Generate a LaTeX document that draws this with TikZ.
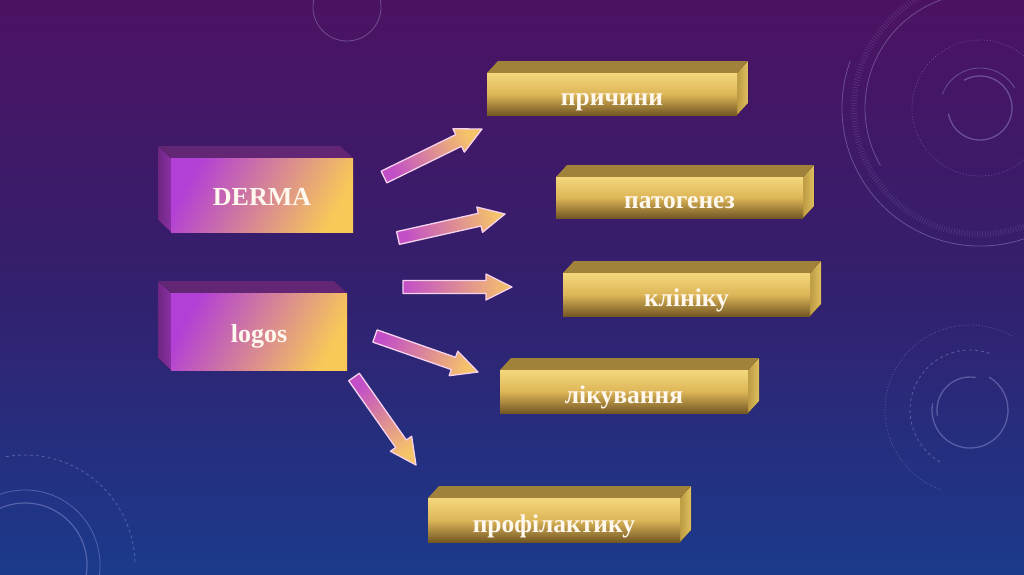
\documentclass[tikz,border=0pt]{standalone}
\usepackage{fontspec}
\setmainfont{Liberation Serif}
\usetikzlibrary{calc}
\definecolor{bgtop}{HTML}{4C1262}
\definecolor{bgmid}{HTML}{33206E}
\definecolor{bgbot}{HTML}{1B3A8C}
\definecolor{pfrontA}{HTML}{B23FD6}
\definecolor{pfrontB}{HTML}{F8C858}
\definecolor{ptop}{HTML}{622674}
\definecolor{pside}{HTML}{8A30A4}
\definecolor{gtop}{HTML}{A0823A}
\definecolor{gside}{HTML}{DDB64E}
\definecolor{gfrontT}{HTML}{F4D87C}
\definecolor{gfrontM}{HTML}{DDB658}
\definecolor{gfrontB}{HTML}{745824}
\definecolor{atail}{HTML}{C24EC8}
\definecolor{ahead}{HTML}{F6C468}
\definecolor{aline}{HTML}{F6D2EC}
\definecolor{txt}{HTML}{FFF8EE}
\definecolor{deco}{HTML}{B8B8F0}
\tikzset{
  ptext/.style={text=txt, font=\fontsize{26}{30}\selectfont\bfseries, inner sep=0pt, anchor=base},
  gtext/.style={text=txt, font=\fontsize{25.5}{30}\selectfont\bfseries, inner sep=0pt, anchor=base},
  pfront/.style={draw=none, inner sep=0pt, top color=pfrontB, bottom color=pfrontA, shading angle=-118},
  gfront/.style={draw=none, inner sep=0pt, top color=gfrontT, bottom color=gfrontB, middle color=gfrontM},
  arrowbody/.style={draw=aline, line width=1.3pt, line join=round, top color=ahead, bottom color=atail},
  decoline/.style={draw=deco, opacity=0.35, line width=0.8pt},
}
\newcommand{\PBox}[7]{% name, x1, y1, x2, y2, text, text baseline
  \coordinate (#1-nw) at (#2,#3);
  \coordinate (#1-se) at (#4,#5);
  \fill[ptop] (#2,#3) -- ++(-13,-12) -- ($(#4,#3)+(-13,-12)$) -- (#4,#3) -- cycle;
  \fill[left color=pside!80!black, right color=pside] (#2,#3) -- ++(-13,-12) -- ($(#2,#5)+(-13,-12)$) -- (#2,#5) -- cycle;
  \path[pfront] (#1-nw) rectangle (#1-se);
  \node[ptext] (#1) at ($(#2/2+#4/2,#7)$) {#6};
}
\newcommand{\GBox}[6]{% name, x1, y1, x2, y2, text
  \coordinate (#1-nw) at (#2,#3);
  \coordinate (#1-se) at (#4,#5);
  \fill[gtop] (#2,#3) -- ++(11,-12) -- ($(#4,#3)+(11,-12)$) -- (#4,#3) -- cycle;
  \fill[left color=gside!85!black, right color=gside!90!white] (#4,#3) -- ++(11,-12) -- ($(#4,#5)+(11,-12)$) -- (#4,#5) -- cycle;
  \path[gfront] (#1-nw) rectangle (#1-se);
  \node[gtext] (#1) at ($(#2/2+#4/2,#5-10)$) {#6};
}
\newcommand{\BArrow}[3]{% start, end, shading direction angle
  \coordinate (#1#2h) at ($(#2)!26pt!(#1)$);
  \path[arrowbody, shading angle=#3-90]
    ($(#1)!6.5pt!90:(#2)$) -- ($(#1#2h)!6.5pt!90:(#2)$) -- ($(#1#2h)!13pt!90:(#2)$)
    -- (#2) -- ($(#1#2h)!13pt!-90:(#2)$) -- ($(#1#2h)!6.5pt!-90:(#2)$)
    -- ($(#1)!6.5pt!-90:(#2)$) -- cycle;
}
\begin{document}
\begin{tikzpicture}[x=1pt,y=-1pt]
\useasboundingbox (0,0) rectangle (1024,574);
\fill[top color=bgtop, bottom color=bgbot, middle color=bgmid] (0,0) rectangle (1024,574);
% decorations
\draw[decoline] (980,108) ++(200:138) arc[start angle=200, end angle=-60, radius=138];
\draw[decoline] (980,108) ++(150:115) arc[start angle=150, end angle=250, radius=115];
\draw[decoline, opacity=0.18, line width=6pt, dash pattern=on 0.6pt off 2pt] (980,108) circle[radius=126];
\draw[decoline, dotted] (980,108) circle[radius=68];
\draw[decoline, line width=1.3pt] (980,108) ++(170:32) arc[start angle=170, end angle=-120, radius=32];
\draw[decoline] (980,108) ++(200:40) arc[start angle=200, end angle=330, radius=40];
\draw[decoline, line width=1.3pt] (970,410) ++(190:38) arc[start angle=190, end angle=-60, radius=38];
\draw[decoline, line width=1.3pt] (970,410) ++(-80:33) arc[start angle=-80, end angle=-190, radius=33];
\draw[decoline, dashed] (970,410) ++(120:60) arc[start angle=120, end angle=290, radius=60];
\draw[decoline, dotted] (970,410) ++(110:85) arc[start angle=110, end angle=300, radius=85];
\draw[decoline, line width=1.2pt] (25,565) circle[radius=62];
\draw[decoline] (25,565) circle[radius=75];
\draw[decoline, dashed] (25,565) ++(-100:110) arc[start angle=-100, end angle=0, radius=110];
\draw[decoline] (347,7) ++(200:27) arc[start angle=200, end angle=330, radius=27];
\draw[decoline] (347,7) circle[radius=34];
% purple boxes
\PBox{derma}{171}{158}{353}{232}{DERMA}{205}
\PBox{logos}{171}{293}{347}{370}{logos}{342}
% gold boxes
\GBox{prych}{487}{73}{737}{115}{причини}
\GBox{patog}{556}{177}{803}{218}{патогенез}
\GBox{klin}{563}{273}{810}{316}{клініку}
\GBox{likuv}{500}{370}{748}{413}{лікування}
\GBox{profil}{428}{498}{680}{542}{профілактику}
% arrow anchors
\coordinate (a1s) at (384,177); \coordinate (a1e) at (482,129);
\coordinate (a2s) at (398,238); \coordinate (a2e) at (505,214);
\coordinate (a3s) at (403,287); \coordinate (a3e) at (512,287);
\coordinate (a4s) at (375,336); \coordinate (a4e) at (478,372);
\coordinate (a5s) at (354,377); \coordinate (a5e) at (416,465);
\BArrow{a1s}{a1e}{26}
\BArrow{a2s}{a2e}{12.6}
\BArrow{a3s}{a3e}{0}
\BArrow{a4s}{a4e}{-19.3}
\BArrow{a5s}{a5e}{-54.8}
\end{tikzpicture}
\end{document}
